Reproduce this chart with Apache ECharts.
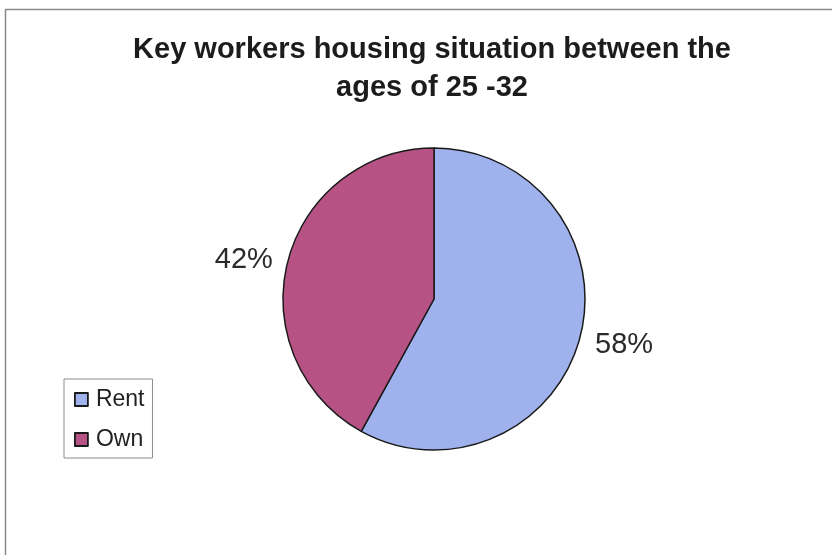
<!DOCTYPE html>
<html>
<head>
<meta charset="utf-8">
<script src="https://cdn.jsdelivr.net/npm/echarts@6/dist/echarts.min.js"></script>
<style>
  html, body { margin: 0; padding: 0; background: #ffffff; }
  #chart { width: 832px; height: 555px; }
</style>
</head>
<body>
<div id="chart"></div>
<script>
// Housing situation of key workers aged 25-32 (share in percent)
const categories = ['Rent', 'Own'];
const shares = [58, 42];
const sliceColors = ['#9fb2ee', '#b65384'];
const titleText = 'Key workers housing situation between the\nages of 25 -32';

const chart = echarts.init(document.getElementById('chart'), null, { renderer: 'canvas' });

const pieData = categories.map((name, i) => ({
  name: name,
  value: shares[i],
  itemStyle: { color: sliceColors[i] },
  // the right-hand label sits a little lower: an empty spacer line above it
  label: i === 0
    ? { formatter: '{gap|}\n{d}%', rich: { gap: { height: 14, lineHeight: 14 } } }
    : {}
}));

chart.setOption({
  backgroundColor: '#ffffff',
  animation: false,
  title: {
    text: titleText,
    left: 427,
    top: 26,
    textAlign: 'center',
    textStyle: {
      fontFamily: '"Liberation Sans", Arial, sans-serif',
      fontSize: 29,
      fontWeight: 'bold',
      color: '#1c1c1c',
      lineHeight: 38
    }
  },
  legend: {
    orient: 'vertical',
    left: 64,
    top: 379,
    padding: [9, 8, 7, 10],
    itemGap: 17,
    itemWidth: 13,
    itemHeight: 13,
    icon: 'rect',
    borderColor: '#8c8c8c',
    borderWidth: 1,
    backgroundColor: '#ffffff',
    data: categories,
    itemStyle: { borderColor: '#1a1a1a', borderWidth: 1.8 },
    textStyle: {
      fontFamily: '"Liberation Sans", Arial, sans-serif',
      fontSize: 23,
      color: '#222222',
      padding: [0, 0, 0, 3]
    }
  },
  // outer frame: top and left edges
  graphic: [
    { type: 'line', shape: { x1: 5, y1: 9.5, x2: 832, y2: 9.5 }, style: { stroke: '#8a8a8a', lineWidth: 1.5 } },
    { type: 'line', shape: { x1: 5.5, y1: 9, x2: 5.5, y2: 555 }, style: { stroke: '#8a8a8a', lineWidth: 1.5 } }
  ],
  series: [{
    type: 'pie',
    center: [434, 299],
    radius: 151,
    startAngle: 90,
    clockwise: true,
    avoidLabelOverlap: false,
    data: pieData,
    itemStyle: { borderColor: '#1a1a1a', borderWidth: 1.5 },
    label: {
      show: true,
      position: 'outside',
      formatter: '{d}%',
      fontFamily: '"Liberation Sans", Arial, sans-serif',
      fontSize: 29,
      color: '#2a2a2a'
    },
    labelLine: { show: false, length: 5, length2: 5 },
    emphasis: { disabled: true }
  }]
});
</script>
</body>
</html>
